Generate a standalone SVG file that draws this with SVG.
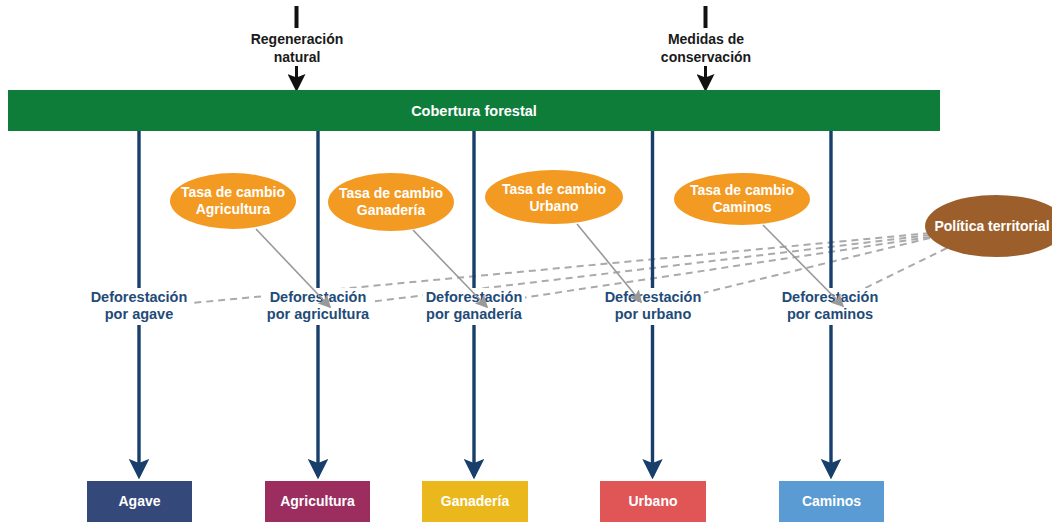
<svg xmlns="http://www.w3.org/2000/svg" width="1052" height="523" viewBox="0 0 1052 523">
<defs>
<style>
.t{font-family:"Liberation Sans",Arial,sans-serif;font-weight:bold;text-anchor:middle}
.top{font-size:14px;fill:#1a1a1a}
.w{font-size:14px;fill:#ffffff}
.lbl{font-size:14.5px;fill:#1f4b78}
.blue{stroke:#183f6c;stroke-width:3.4;fill:none}
.dash{stroke:#aaaaaa;stroke-width:2;stroke-dasharray:7 5;fill:none}
.gray{stroke:#999999;stroke-width:1.6;fill:none}
.orange{fill:#f39a22}
.box{stroke:none}
</style>
<marker id="ab" markerWidth="6" markerHeight="6" refX="5" refY="3" orient="auto" markerUnits="strokeWidth">
<path d="M0,0 L6,3 L0,6 L1.2,3 Z" fill="#183f6c"/>
</marker>
<marker id="ag" markerWidth="8" markerHeight="8" refX="7" refY="4" orient="auto" markerUnits="strokeWidth">
<path d="M0,0 L8,4 L0,8 L1.5,4 Z" fill="#999999"/>
</marker>
<marker id="ak" markerWidth="6" markerHeight="6" refX="5" refY="3" orient="auto" markerUnits="strokeWidth">
<path d="M0,0 L6,3 L0,6 L1.2,3 Z" fill="#111111"/>
</marker>
</defs>
<rect width="1052" height="523" fill="#ffffff"/>

<g id="connectors">
<!-- dashed from Politica territorial -->
<line class="dash" x1="930" y1="233" x2="139" y2="308"/>
<line class="dash" x1="930" y1="235" x2="318" y2="308"/>
<line class="dash" x1="930" y1="237" x2="474" y2="305"/>
<line class="dash" x1="930" y1="238" x2="653" y2="305"/>
<line class="dash" x1="947" y1="248" x2="845" y2="298"/>
<!-- top inputs -->
<line x1="296.5" y1="6" x2="296.5" y2="28" stroke="#111" stroke-width="4"/>
<line x1="296.5" y1="66" x2="296.5" y2="89" stroke="#111" stroke-width="3" marker-end="url(#ak)"/>
<line x1="705.5" y1="6" x2="705.5" y2="28" stroke="#111" stroke-width="4"/>
<line x1="705.5" y1="66" x2="705.5" y2="89" stroke="#111" stroke-width="3" marker-end="url(#ak)"/>
<!-- blue flows -->
<line class="blue" x1="139" y1="131" x2="139" y2="476" marker-end="url(#ab)"/>
<line class="blue" x1="318" y1="131" x2="318" y2="476" marker-end="url(#ab)"/>
<line class="blue" x1="474" y1="131" x2="474" y2="476" marker-end="url(#ab)"/>
<line class="blue" x1="652.5" y1="131" x2="652.5" y2="476" marker-end="url(#ab)"/>
<line class="blue" x1="831" y1="131" x2="831" y2="476" marker-end="url(#ab)"/>
</g>

<g id="cobertura">
<rect x="8" y="90" width="932" height="41" fill="#0e7d3a"/>
<text class="t w" x="474" y="116" style="font-size:14.5px">Cobertura forestal</text>
</g>

<g id="regeneracion">
<text class="t top" x="297" y="44">Regeneración</text>
<text class="t top" x="297" y="62">natural</text>
</g>
<g id="medidas">
<text class="t top" x="706" y="44">Medidas de</text>
<text class="t top" x="706" y="62">conservación</text>
</g>

<g id="tasa-agricultura">
<ellipse class="orange" cx="233" cy="201" rx="63" ry="28"/>
<text class="t w" x="233" y="197">Tasa de cambio</text>
<text class="t w" x="233" y="214">Agricultura</text>
</g>
<g id="tasa-ganaderia">
<ellipse class="orange" cx="391" cy="202" rx="63" ry="29"/>
<text class="t w" x="391" y="198">Tasa de cambio</text>
<text class="t w" x="391" y="215">Ganadería</text>
</g>
<g id="tasa-urbano">
<ellipse class="orange" cx="554" cy="197" rx="69" ry="27"/>
<text class="t w" x="554" y="194">Tasa de cambio</text>
<text class="t w" x="554" y="211">Urbano</text>
</g>
<g id="tasa-caminos">
<ellipse class="orange" cx="742" cy="199" rx="68" ry="26"/>
<text class="t w" x="742" y="195">Tasa de cambio</text>
<text class="t w" x="742" y="212">Caminos</text>
</g>
<g id="politica">
<ellipse cx="996" cy="226" rx="71" ry="31" fill="#9c5f2c"/>
<text class="t w" x="992" y="231">Política territorial</text>
</g>

<g id="def-agave">
<rect x="89" y="288" width="101" height="37" fill="#ffffff"/>
<text class="t lbl" x="139" y="302">Deforestación</text>
<text class="t lbl" x="139" y="319">por agave</text>
</g>
<g id="def-agricultura">
<rect x="265" y="288" width="106" height="37" fill="#ffffff"/>
<text class="t lbl" x="318" y="302">Deforestación</text>
<text class="t lbl" x="318" y="319">por agricultura</text>
</g>
<g id="def-ganaderia">
<rect x="423" y="288" width="102" height="37" fill="#ffffff"/>
<text class="t lbl" x="474" y="302">Deforestación</text>
<text class="t lbl" x="474" y="319">por ganadería</text>
</g>
<g id="def-urbano">
<rect x="602" y="288" width="102" height="37" fill="#ffffff"/>
<text class="t lbl" x="653" y="302">Deforestación</text>
<text class="t lbl" x="653" y="319">por urbano</text>
</g>
<g id="def-caminos">
<rect x="779" y="288" width="102" height="37" fill="#ffffff"/>
<text class="t lbl" x="830" y="302">Deforestación</text>
<text class="t lbl" x="830" y="319">por caminos</text>
</g>

<g id="rate-connectors">
<line class="gray" x1="256" y1="229" x2="330" y2="307" marker-end="url(#ag)"/>
<line class="gray" x1="413" y1="230" x2="487" y2="307" marker-end="url(#ag)"/>
<line class="gray" x1="577" y1="224" x2="641" y2="302" marker-end="url(#ag)"/>
<line class="gray" x1="763" y1="225" x2="843" y2="306" marker-end="url(#ag)"/>
</g>

<g id="agave">
<rect class="box" x="87" y="481" width="105" height="41" fill="#34497a"/>
<text class="t w" x="139.5" y="506">Agave</text>
</g>
<g id="agricultura">
<rect class="box" x="265" y="481" width="105" height="41" fill="#9b2d5f"/>
<text class="t w" x="317.5" y="506">Agricultura</text>
</g>
<g id="ganaderia">
<rect class="box" x="422" y="481" width="106" height="41" fill="#eab81c"/>
<text class="t w" x="475" y="506">Ganadería</text>
</g>
<g id="urbano">
<rect class="box" x="600" y="481" width="106" height="41" fill="#e05555"/>
<text class="t w" x="653" y="506">Urbano</text>
</g>
<g id="caminos">
<rect class="box" x="779" y="481" width="105" height="41" fill="#5a9bd3"/>
<text class="t w" x="831.5" y="506">Caminos</text>
</g>
</svg>
